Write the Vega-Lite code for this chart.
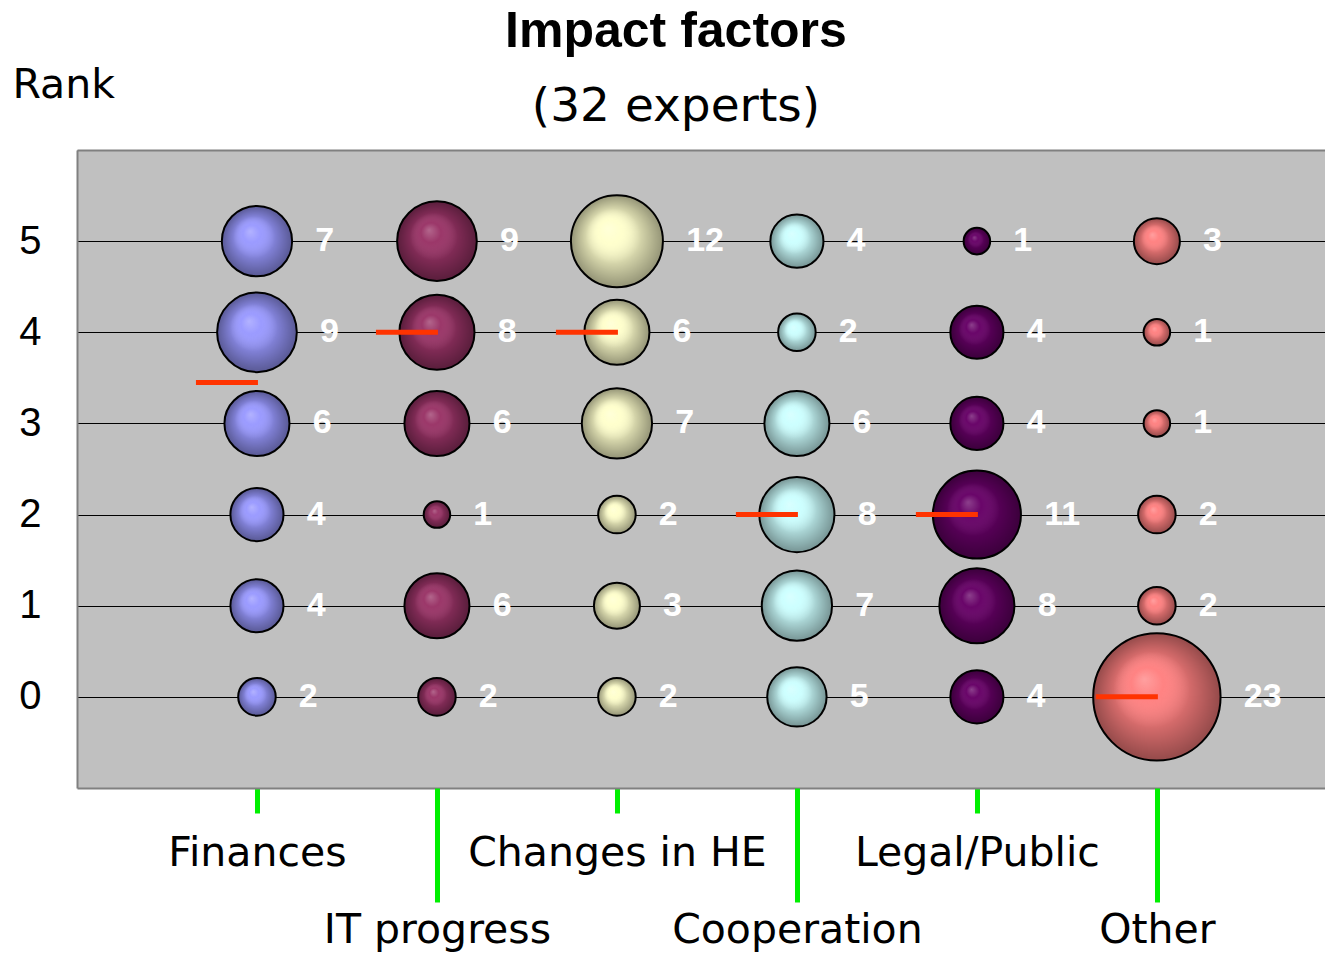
{
  "$schema": "https://vega.github.io/schema/vega-lite/v6.json",
  "width": 1248,
  "height": 638,
  "autosize": {"type": "none"},
  "padding": {"left": 77, "top": 150, "right": 0, "bottom": 166},
  "background": "white",
  "config": {"view": {"fill": "#C0C0C0", "stroke": null}},
  "title": {
    "text": "Impact factors",
    "subtitle": "(32 experts)",
    "font": "Liberation Sans",
    "fontSize": 50,
    "fontWeight": "bold",
    "color": "black",
    "subtitleFont": "DejaVu Sans",
    "subtitleFontSize": 47,
    "subtitleColor": "black",
    "anchor": "middle",
    "dx": -25,
    "offset": -66,
    "subtitlePadding": 27
  },
  "datasets": {
    "counts": [
      {"factor": "Finances", "rank": 5, "n": 7},
      {"factor": "Finances", "rank": 4, "n": 9},
      {"factor": "Finances", "rank": 3, "n": 6},
      {"factor": "Finances", "rank": 2, "n": 4},
      {"factor": "Finances", "rank": 1, "n": 4},
      {"factor": "Finances", "rank": 0, "n": 2},
      {"factor": "IT progress", "rank": 5, "n": 9},
      {"factor": "IT progress", "rank": 4, "n": 8},
      {"factor": "IT progress", "rank": 3, "n": 6},
      {"factor": "IT progress", "rank": 2, "n": 1},
      {"factor": "IT progress", "rank": 1, "n": 6},
      {"factor": "IT progress", "rank": 0, "n": 2},
      {"factor": "Changes in HE", "rank": 5, "n": 12},
      {"factor": "Changes in HE", "rank": 4, "n": 6},
      {"factor": "Changes in HE", "rank": 3, "n": 7},
      {"factor": "Changes in HE", "rank": 2, "n": 2},
      {"factor": "Changes in HE", "rank": 1, "n": 3},
      {"factor": "Changes in HE", "rank": 0, "n": 2},
      {"factor": "Cooperation", "rank": 5, "n": 4},
      {"factor": "Cooperation", "rank": 4, "n": 2},
      {"factor": "Cooperation", "rank": 3, "n": 6},
      {"factor": "Cooperation", "rank": 2, "n": 8},
      {"factor": "Cooperation", "rank": 1, "n": 7},
      {"factor": "Cooperation", "rank": 0, "n": 5},
      {"factor": "Legal/Public", "rank": 5, "n": 1},
      {"factor": "Legal/Public", "rank": 4, "n": 4},
      {"factor": "Legal/Public", "rank": 3, "n": 4},
      {"factor": "Legal/Public", "rank": 2, "n": 11},
      {"factor": "Legal/Public", "rank": 1, "n": 8},
      {"factor": "Legal/Public", "rank": 0, "n": 4},
      {"factor": "Other", "rank": 5, "n": 3},
      {"factor": "Other", "rank": 4, "n": 1},
      {"factor": "Other", "rank": 3, "n": 1},
      {"factor": "Other", "rank": 2, "n": 2},
      {"factor": "Other", "rank": 1, "n": 2},
      {"factor": "Other", "rank": 0, "n": 23}
    ],
    "medians": [
      {"factor": "Finances", "rank": 3.45},
      {"factor": "IT progress", "rank": 4},
      {"factor": "Changes in HE", "rank": 4},
      {"factor": "Cooperation", "rank": 2},
      {"factor": "Legal/Public", "rank": 2},
      {"factor": "Other", "rank": 0}
    ]
  },
  "encoding": {
    "y": {
      "field": "rank",
      "type": "quantitative",
      "scale": {"domain": [-1, 6], "nice": false, "zero": false},
      "axis": {
        "values": [0, 1, 2, 3, 4, 5],
        "title": "Rank",
        "titleAngle": 0,
        "titleAlign": "left",
        "titleBaseline": "alphabetic",
        "titleX": -65,
        "titleY": -53,
        "titleFont": "DejaVu Sans",
        "titleFontSize": 41,
        "titleFontWeight": "normal",
        "titleColor": "black",
        "labelFont": "Liberation Sans",
        "labelFontSize": 40,
        "labelColor": "black",
        "labelPadding": 36,
        "ticks": false,
        "tickSize": 0,
        "grid": true,
        "gridColor": "black",
        "gridWidth": 1,
        "gridOpacity": 1,
        "domainColor": "#808080",
        "domainWidth": 2
      }
    }
  },
  "layer": [
    {
      "data": {"name": "counts"},
      "mark": {"type": "circle", "opacity": 1, "strokeWidth": 0},
      "encoding": {
        "x": {
          "field": "factor",
          "type": "nominal",
          "scale": {"type": "point", "domain": ["Finances", "IT progress", "Changes in HE", "Cooperation", "Legal/Public", "Other"], "padding": 0.967, "align": 0.517},
          "axis": {
            "orient": "bottom",
            "values": ["Finances", "Changes in HE", "Legal/Public"],
            "title": null,
            "labelAngle": 0,
            "labelFont": "DejaVu Sans",
            "labelFontSize": 41,
            "labelColor": "black",
            "labelPadding": 20,
            "labelLimit": 0,
            "labelOverlap": false,
            "labelFlush": false,
            "tickColor": "#00F000",
            "tickWidth": 5,
            "tickSize": 25,
            "domainColor": "#808080",
            "domainWidth": 2,
            "grid": false
          }
        },
        "size": {"field": "n", "type": "quantitative", "scale": {"type": "linear", "domain": [0, 23], "range": [0, 16230], "zero": true}, "legend": null},
        "color": {"field": "factor", "type": "nominal", "scale": {"domain": ["Finances", "IT progress", "Changes in HE", "Cooperation", "Legal/Public", "Other"], "range": ["#9999FF", "#993366", "#FFFFCC", "#CCFFFF", "#660066", "#FF8080"]}, "legend": null}
      }
    },
    {
      "data": {"name": "counts"},
      "mark": {
        "type": "circle",
        "opacity": 1,
        "stroke": "black",
        "strokeWidth": 2,
        "fill": {
          "gradient": "radial",
          "x1": 0.4, "y1": 0.36, "r1": 0,
          "x2": 0.5, "y2": 0.5, "r2": 0.5,
          "stops": [
            {"offset": 0, "color": "rgba(255,255,255,0.25)"},
            {"offset": 0.25, "color": "rgba(255,255,255,0.02)"},
            {"offset": 0.6, "color": "rgba(0,0,0,0.17)"},
            {"offset": 1, "color": "rgba(0,0,0,0.42)"}
          ]
        }
      },
      "encoding": {
        "x": {
          "field": "factor",
          "type": "nominal",
          "scale": {"type": "point", "domain": ["Finances", "IT progress", "Changes in HE", "Cooperation", "Legal/Public", "Other"], "padding": 0.967, "align": 0.517},
          "axis": null
        },
        "size": {"field": "n", "type": "quantitative", "scale": {"type": "linear", "domain": [0, 23], "range": [0, 16230], "zero": true}, "legend": null}
      }
    },
    {
      "data": {"name": "medians"},
      "mark": {"type": "tick", "orient": "horizontal", "color": "#FF3300", "opacity": 1, "size": 62, "thickness": 5, "xOffset": -30},
      "encoding": {
        "x": {
          "field": "factor",
          "type": "nominal",
          "scale": {"type": "point", "domain": ["Finances", "IT progress", "Changes in HE", "Cooperation", "Legal/Public", "Other"], "padding": 0.967, "align": 0.517},
          "axis": {
            "orient": "bottom",
            "values": ["IT progress", "Cooperation", "Other"],
            "title": null,
            "labelAngle": 0,
            "labelFont": "DejaVu Sans",
            "labelFontSize": 41,
            "labelColor": "black",
            "labelPadding": 8,
            "labelLimit": 0,
            "labelOverlap": false,
            "labelFlush": false,
            "tickColor": "#00F000",
            "tickWidth": 5,
            "tickSize": 114,
            "domain": false,
            "grid": false
          }
        }
      }
    },
    {
      "data": {"name": "counts"},
      "mark": {"type": "text", "align": "left", "baseline": "middle", "font": "Liberation Sans", "fontSize": 34, "fontWeight": "bold", "fill": "white"},
      "encoding": {
        "x": {
          "field": "factor",
          "type": "nominal",
          "scale": {"type": "point", "domain": ["Finances", "IT progress", "Changes in HE", "Cooperation", "Legal/Public", "Other"], "padding": 0.967, "align": 0.517},
          "axis": {
            "orient": "top",
            "labels": false,
            "ticks": false,
            "title": null,
            "grid": false,
            "domainColor": "#808080",
            "domainWidth": 2
          }
        },
        "xOffset": {"field": "n", "type": "quantitative", "scale": {"type": "sqrt", "domain": [0, 23], "range": [23, 87], "nice": false, "zero": true}},
        "text": {"field": "n", "type": "quantitative"}
      }
    }
  ],
  "resolve": {"axis": {"x": "independent"}}
}
